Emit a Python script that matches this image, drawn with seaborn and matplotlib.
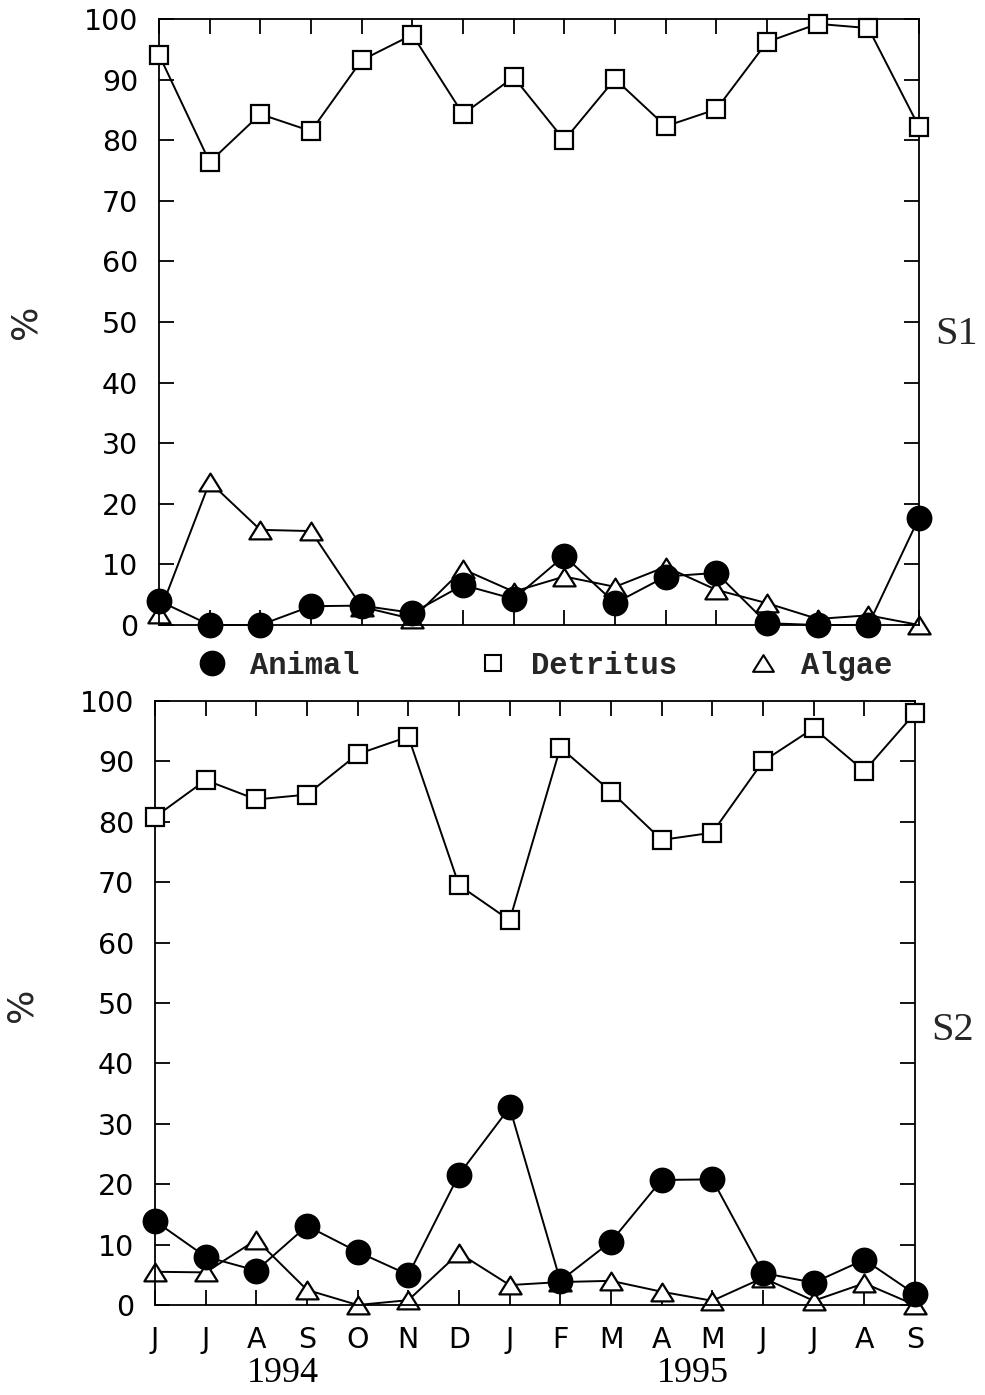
import numpy as np
import pandas as pd
import matplotlib
matplotlib.use("Agg")
import matplotlib.pyplot as plt
from matplotlib.lines import Line2D
from matplotlib.path import Path
import seaborn as sns

# Sampling months, June 1994 to September 1995
months = ["J", "J", "A", "S", "O", "N", "D", "J", "F", "M", "A", "M", "J", "J", "A", "S"]
years = ["1994", "1995"]

# Diet composition (%) at site S1
s1_animal = [4.0, 0.0, 0.0, 3.1, 3.2, 2.0, 6.6, 4.3, 11.4, 3.6, 8.0, 8.6, 0.3, 0.0, 0.0, 17.7]
s1_detritus = [94.1, 76.4, 84.3, 81.5, 93.2, 97.4, 84.3, 90.4, 80.0, 90.1, 82.3, 85.1, 96.2, 99.2, 98.5, 82.2]
s1_algae = [1.8, 23.6, 15.7, 15.5, 3.0, 1.0, 9.2, 5.5, 8.0, 6.3, 9.6, 5.8, 3.6, 1.0, 1.6, 0.0]

# Diet composition (%) at site S2
s2_animal = [13.9, 8.0, 5.7, 13.1, 8.8, 5.0, 21.6, 32.7, 4.0, 10.5, 20.7, 20.8, 5.3, 3.7, 7.5, 1.8]
s2_detritus = [80.8, 86.9, 83.7, 84.5, 91.2, 94.1, 69.5, 63.7, 92.3, 85.0, 77.0, 78.2, 90.0, 95.5, 88.4, 98.0]
s2_algae = [5.5, 5.4, 10.8, 2.5, 0.0, 0.8, 8.6, 3.3, 3.8, 4.0, 2.2, 0.7, 4.5, 0.7, 3.6, 0.0]

series_names = ["Animal", "Detritus", "Algae"]
panel_names = ["S1", "S2"]

sns.set_style("white")
plt.rcParams["font.family"] = ["DejaVu Sans"]

W, H = 985, 1395
fig = plt.figure(figsize=(W / 100, H / 100), dpi=100)

def fx(px):
    return px / W

def fy(py):
    return 1 - py / H

# Axes rectangles (left, top, right, bottom in pixels)
rects = [(159, 19, 919, 625), (155, 701, 915, 1305)]
axes = []
for (l, t, r, b) in rects:
    axes.append(fig.add_axes([fx(l), fy(b), fx(r) - fx(l), fy(t) - fy(b)]))

# Slightly flattened open triangle
tri = Path([(-1.0, -0.8), (1.0, -0.8), (0.0, 0.8), (-1.0, -0.8)], closed=True)
styles = {
    "Animal": dict(marker="o", markersize=17, markerfacecolor="black", zorder=4),
    "Detritus": dict(marker="s", markersize=13, markerfacecolor="white", zorder=3),
    "Algae": dict(marker=tri, markersize=16, markerfacecolor="white", zorder=2),
}

data = [
    {"Animal": s1_animal, "Detritus": s1_detritus, "Algae": s1_algae},
    {"Animal": s2_animal, "Detritus": s2_detritus, "Algae": s2_algae},
]

x = np.arange(len(months))
for ax, d, name in zip(axes, data, panel_names):
    for s in ["Algae", "Detritus", "Animal"]:
        df = pd.DataFrame({"month": x, "value": d[s]})
        sns.lineplot(data=df, x="month", y="value", ax=ax, color="black",
                     linewidth=1.4, markeredgecolor="black", markeredgewidth=1.6,
                     clip_on=False, legend=False, **styles[s])
    ax.set_xlim(0, 15)
    ax.set_ylim(0, 100)
    ax.set_yticks(np.arange(0, 101, 10))
    ax.set_xticks(x)
    ax.set_xlabel("")
    ax.set_ylabel("")
    for sp in ax.spines.values():
        sp.set_visible(True)
        sp.set_color("black")
        sp.set_linewidth(1.3)
    ax.tick_params(axis="both", direction="in", length=11, width=1.3,
                   top=True, right=True, bottom=True, left=True,
                   labelsize=20.5, colors="black")
    ax.tick_params(axis="y", pad=15)
    ax.set_facecolor("white")
    ax.text(1.022, 0.48 if name == "S1" else 0.455, name, transform=ax.transAxes,
            fontsize=29, family="Liberation Serif", va="center", ha="left")

# Percentage axis captions
fig.text(fx(26), fy(322), "%", fontsize=26, rotation=90, ha="center", va="center")
fig.text(fx(22), fy(1005), "%", fontsize=26, rotation=90, ha="center", va="center")

axes[0].set_xticklabels([])
axes[1].set_xticklabels(months)
axes[1].tick_params(axis="x", pad=15)

# Year captions under the month axis
fig.text(fx(283), fy(1374), years[0], fontsize=26, family="Liberation Serif",
         ha="center", va="center", color="black")
fig.text(fx(693), fy(1374), years[1], fontsize=26, family="Liberation Serif",
         ha="center", va="center", color="black")

# Legend row between the panels
legend_items = [
    ("Animal", 212, dict(marker="o", markersize=17, markerfacecolor="black")),
    ("Detritus", 493, dict(marker="s", markersize=12, markerfacecolor="white")),
    ("Algae", 763, dict(marker=tri, markersize=15, markerfacecolor="white")),
]
fs = 22
fs_px = fs * 100 / 72
for label, cx, kw in legend_items:
    h = Line2D([], [], linestyle="none", color="black", markeredgecolor="black",
               markeredgewidth=1.5, **kw)
    fig.legend(handles=[h], labels=[label], loc="center left",
               bbox_to_anchor=(fx(cx - 0.5 * fs_px), fy(666)),
               frameon=False, borderpad=0, borderaxespad=0, handlelength=1.0,
               handletextpad=0.75,
               prop={"family": "Liberation Mono", "size": fs, "weight": "bold"})

fig.savefig("out.png", dpi=100, facecolor="white")
